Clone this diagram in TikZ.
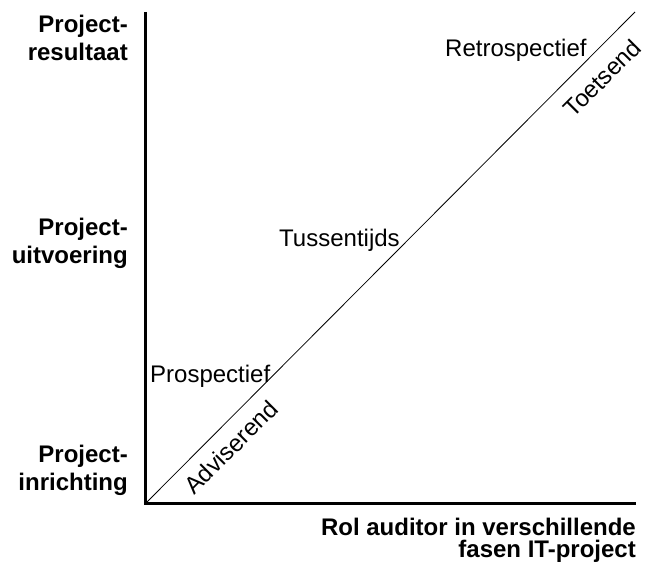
\documentclass[tikz,border=0pt]{standalone}
\usepackage{fontspec}
\setmainfont{Liberation Sans}
\begin{document}
\begin{tikzpicture}[x=1pt,y=1pt,
  axis/.style={line width=3pt},
  diag/.style={line width=0.8pt},
  axlabel/.style={inner sep=0pt,align=right,font=\fontsize{24}{28}\selectfont\bfseries},
  phase/.style={inner sep=0pt,font=\fontsize{24}{28}\selectfont},
  role/.style={inner sep=0pt,font=\fontsize{24}{28}\selectfont,rotate=45}]
  \useasboundingbox (0,0) rectangle (646,562);

  % axes and the diagonal
  \coordinate (O) at (145,58);
  \coordinate (ytop) at (145,550);
  \coordinate (xend) at (636,58);
  \coordinate (dend) at (635,550);
  \draw[axis] (ytop) -- (O) -- (xend);
  \draw[diag] (O) -- (dend);

  % vertical axis labels
  \node[axlabel,anchor=north east] (res) at (128,547) {Project-\\resultaat};
  \node[axlabel,anchor=north east] (uit) at (128,344) {Project-\\uitvoering};
  \node[axlabel,anchor=north east] (inr) at (128,117) {Project-\\inrichting};

  % horizontal axis label
  \node[inner sep=0pt,align=right,anchor=north east,
        font=\fontsize{24}{22}\selectfont\bfseries] (xlab) at (636,44)
        {Rol auditor in verschillende\\fasen IT-project};

  % phases above the diagonal
  \node[phase,anchor=base west] (pro) at (150,179) {Prospectief};
  \node[phase,anchor=base west] (tus) at (279,315) {Tussentijds};
  \node[phase,anchor=base west] (ret) at (445,505) {Retrospectief};

  % roles along the diagonal
  \node[role] (adv) at (231,115) {Adviserend};
  \node[role] (toe) at (602,484) {Toetsend};
\end{tikzpicture}
\end{document}
